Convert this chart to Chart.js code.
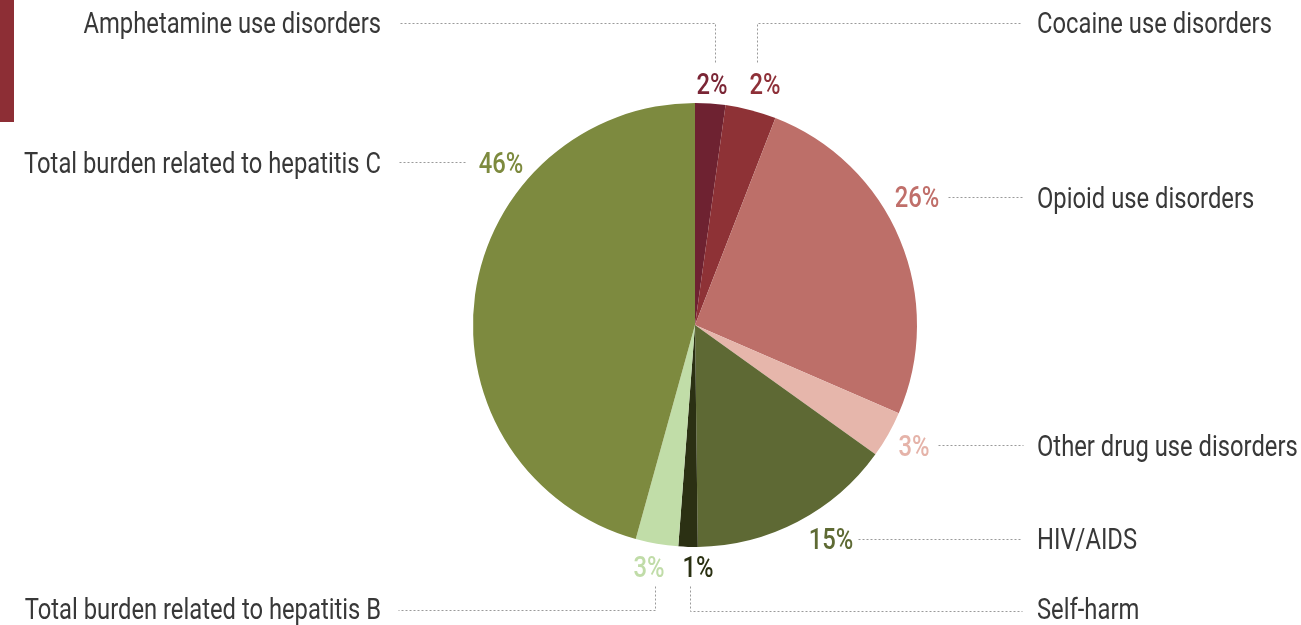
<!DOCTYPE html>
<html>
<head>
<meta charset="utf-8">
<script src="https://cdn.jsdelivr.net/npm/chart.js@4.4.1/dist/chart.umd.min.js"></script>
<style>
  html, body { margin: 0; padding: 0; background: #fff; }
  #wrap { position: relative; width: 1301px; height: 625px; }
  #bar { position: absolute; left: 0; top: 0; width: 14px; height: 122px; background: #8d2e35; }
</style>
</head>
<body>
<div id="wrap">
  <canvas id="pie" width="1301" height="625"></canvas>
  <div id="bar"></div>
</div>
<script>
// categories, clockwise from 12 o'clock
const categories = [
  'Amphetamine use disorders',
  'Cocaine use disorders',
  'Opioid use disorders',
  'Other drug use disorders',
  'HIV/AIDS',
  'Self-harm',
  'Total burden related to hepatitis B',
  'Total burden related to hepatitis C'
];
// shares
const shares = [2.2, 3.7, 25.6, 3.4, 14.9, 1.4, 3.1, 45.7];
// the percentage text printed next to each slice
const percentLabels = ['2%', '2%', '26%', '3%', '15%', '1%', '3%', '46%'];

const sliceColors = ['#6e2231', '#8e3236', '#bd6f69', '#e6b6ab', '#5e6934', '#2b3013', '#c1dda8', '#7d8a3f'];
const pctColors   = ['#7a2535', '#8e3038', '#c06f6a', '#e5b3a9', '#5e6a34', '#2a3012', '#c0dca8', '#7d8a3e'];

// label layout: [pctX, pctBaseline, nameX, nameBaseline, nameAlign, leader polyline]
const layout = [
  [712, 94, 381, 33, 'right', [[715, 62], [715, 23], [398, 23]]],
  [765, 94, 1037, 33, 'left', [[757, 62], [757, 23], [1022, 23]]],
  [917, 207, 1037, 208, 'left', [[948, 197], [1023, 197]]],
  [914, 456, 1037, 456, 'left', [[938, 445], [1023, 445]]],
  [831, 549, 1037, 549, 'left', [[858, 539], [1022, 539]]],
  [698, 577, 1037, 619, 'left', [[690, 586], [690, 611], [1022, 611]]],
  [649, 577, 381, 619, 'right', [[655, 586], [655, 610], [398, 610]]],
  [501, 173, 381, 173, 'right', [[465, 162], [398, 162]]]
];

const SQUEEZE = 0.82;
const FONT = '29px Roboto';

function condensedText(ctx, text, x, y, align, color, font) {
  ctx.save();
  ctx.font = font;
  ctx.fillStyle = color;
  ctx.textBaseline = 'alphabetic';
  ctx.textAlign = align;
  ctx.translate(x, y);
  ctx.scale(SQUEEZE, 1);
  ctx.fillText(text, 0, 0);
  ctx.restore();
}

const labelPlugin = {
  id: 'leaderLabels',
  afterDraw(chart) {
    const ctx = chart.ctx;
    layout.forEach((l, i) => {
      const pts = l[5];
      ctx.save();
      ctx.strokeStyle = '#9a9a9a';
      ctx.lineWidth = 1;
      ctx.setLineDash([2, 2]);
      ctx.beginPath();
      pts.forEach((p, k) => {
        if (k === 0) ctx.moveTo(p[0] + 0.5, p[1] + 0.5);
        else ctx.lineTo(p[0] + 0.5, p[1] + 0.5);
      });
      ctx.stroke();
      ctx.restore();
      condensedText(ctx, percentLabels[i], l[0], l[1], 'center', pctColors[i], '500 ' + FONT);
      condensedText(ctx, categories[i], l[2], l[3], l[4], '#383838', FONT);
    });
  }
};

const ctx = document.getElementById('pie').getContext('2d');
new Chart(ctx, {
  type: 'pie',
  data: {
    labels: categories,
    datasets: [{
      data: shares,
      backgroundColor: sliceColors,
      borderWidth: 0
    }]
  },
  options: {
    responsive: false,
    animation: false,
    layout: { padding: { left: 473, right: 384, top: 103, bottom: 78 } },
    plugins: {
      legend: { display: false },
      tooltip: { enabled: false }
    }
  },
  plugins: [labelPlugin]
});
</script>
</body>
</html>
